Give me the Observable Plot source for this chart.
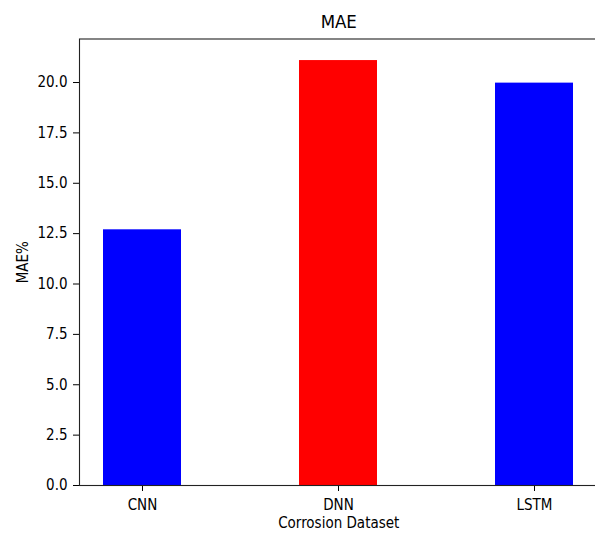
<!DOCTYPE html>
<html>
<head>
<meta charset="utf-8">
<script src="https://cdn.jsdelivr.net/npm/d3@7"></script>
<script src="https://cdn.jsdelivr.net/npm/@observablehq/plot@0.6"></script>
<style>
  html, body { margin: 0; padding: 0; background: #fff; overflow: hidden; }
  #wrap { width: 595px; height: 533px; overflow: hidden; position: relative; }
  #wrap svg { font-family: "DejaVu Sans Condensed", "DejaVu Sans", sans-serif; max-width: none !important; }
</style>
</head>
<body>
<div id="wrap"></div>
<script>
const models = ["CNN", "DNN", "LSTM"];
const maeValues = [12.69, 21.09, 19.97];
const barColors = ["#0000ff", "#ff0000", "#0000ff"];
const yTicks = [0, 2.5, 5, 7.5, 10, 12.5, 15, 17.5, 20];
const chartTitle = "MAE";
const xLabel = "Corrosion Dataset";
const yLabel = "MAE%";

const data = models.map((m, i) => ({model: m, value: maeValues[i], color: barColors[i]}));

const chart = Plot.plot({
  width: 598,
  height: 533,
  marginLeft: 79,
  marginRight: 0.5,
  marginTop: 38.5,
  marginBottom: 48,
  style: {fontSize: "15px", color: "#000", background: "#fff", overflow: "visible", maxWidth: "none"},
  x: {domain: models, type: "band", paddingInner: 0.6, paddingOuter: 0.118},
  y: {domain: [0, 22.16]},
  marks: [
    Plot.barY(data, {x: "model", y: "value", fill: "color"}),
    Plot.axisY({ticks: yTicks, tickFormat: d3.format(".1f"), tickSize: 6, tickPadding: 6,
      label: yLabel, labelAnchor: "center", labelArrow: "none", labelOffset: 62, fontSize: 15}),
    Plot.axisX({tickSize: 6, tickPadding: 8, label: xLabel, labelAnchor: "center", labelArrow: "none", labelOffset: 42.5, fontSize: 15}),
    Plot.frame({stroke: "#222", strokeWidth: 1.1}),
    Plot.text([chartTitle], {frameAnchor: "top", dy: -24, fontSize: 18.5, text: d => d, fill: "#000"})
  ]
});
document.getElementById("wrap").appendChild(chart);
</script>
</body>
</html>
